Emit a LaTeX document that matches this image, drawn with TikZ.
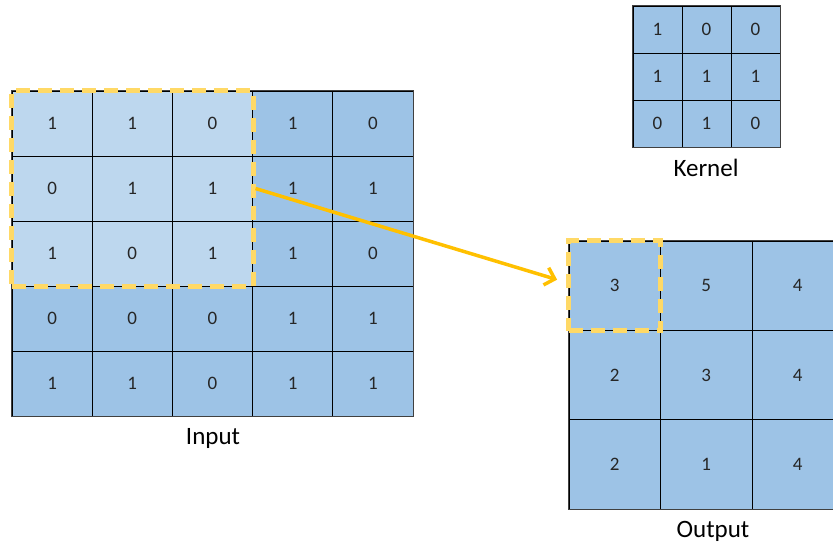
\documentclass[tikz,border=0pt]{standalone}
\usepackage{fontspec}
\setmainfont{Carlito}
\usetikzlibrary{fit,arrows.meta}
\definecolor{cellblue}{HTML}{9DC3E6}
\definecolor{celllight}{HTML}{BDD7EE}
\definecolor{hlyellow}{HTML}{FFD966}
\definecolor{arrowgold}{HTML}{FFC000}
\definecolor{txt}{HTML}{262626}
\begin{document}
\begin{tikzpicture}[x=1pt,y=-1pt,
  cell/.style={draw=black, line width=0.8pt, fill=cellblue, inner sep=0pt, text=txt,
    font=\fontsize{19}{19}\selectfont},
  outline/.style={draw=black!75, line width=1.3pt, inner sep=0pt},
  hlbox/.style={draw=hlyellow, line width=5pt, dash pattern=on 14pt off 8pt, inner sep=0pt},
  lbl/.style={text=black, font=\fontsize{25}{25}\selectfont, inner sep=0pt},
  link/.style={draw=arrowgold, line width=3.5pt, -{Straight Barb[length=9pt,width=18pt,line width=3.5pt]}}]
\useasboundingbox (0,0) rectangle (833,550);
\clip (0,0) rectangle (833,550);
% Input grid
\foreach \r/\row in {1/{1,1,0,1,0},2/{0,1,1,1,1},3/{1,0,1,1,0},4/{0,0,0,1,1},5/{1,1,0,1,1}}{
  \foreach \v [count=\c] in \row {
    \pgfmathparse{((\r<4)&&(\c<4))?"celllight":"cellblue"}
    \edef\fc{\pgfmathresult}
    \node[cell, fill=\fc, minimum width=80.2pt, minimum height=65pt]
      (in-\r-\c) at ({12+80.2*(\c-0.5)},{91+65*(\r-0.5)}) {\v};
  }
}
\node[outline, fit=(in-1-1)(in-5-5)] (input) {};
\node[lbl] (inlabel) at (213,438) {Input};
% Kernel grid
\foreach \r/\row in {1/{1,0,0},2/{1,1,1},3/{0,1,0}}{
  \foreach \v [count=\c] in \row {
    \node[cell, minimum width=49pt, minimum height=47pt]
      (k-\r-\c) at ({633+49*(\c-0.5)},{6+47*(\r-0.5)}) {\v};
  }
}
\node[outline, fit=(k-1-1)(k-3-3)] (kernel) {};
\node[lbl] (klabel) at (706,168) {Kernel};
% Output grid
\foreach \r/\row in {1/{3,5,4},2/{2,3,4},3/{2,1,4}}{
  \foreach \v [count=\c] in \row {
    \node[cell, minimum width=91.5pt, minimum height=89.3pt]
      (o-\r-\c) at ({569+91.5*(\c-0.5)},{241+89.3*(\r-0.5)}) {\v};
  }
}
\node[outline, fit=(o-1-1)(o-3-3)] (output) {};
\node[lbl] (olabel) at (713,531) {Output};
% Highlights
\node[hlbox, fit=(in-1-1)(in-3-3)] (hl) {};
\node[hlbox, fit=(o-1-1)] (oh) {};
% Arrow
\draw[link] (hl.east) -- ([xshift=-9pt,yshift=6pt]oh.west);
\end{tikzpicture}
\end{document}
